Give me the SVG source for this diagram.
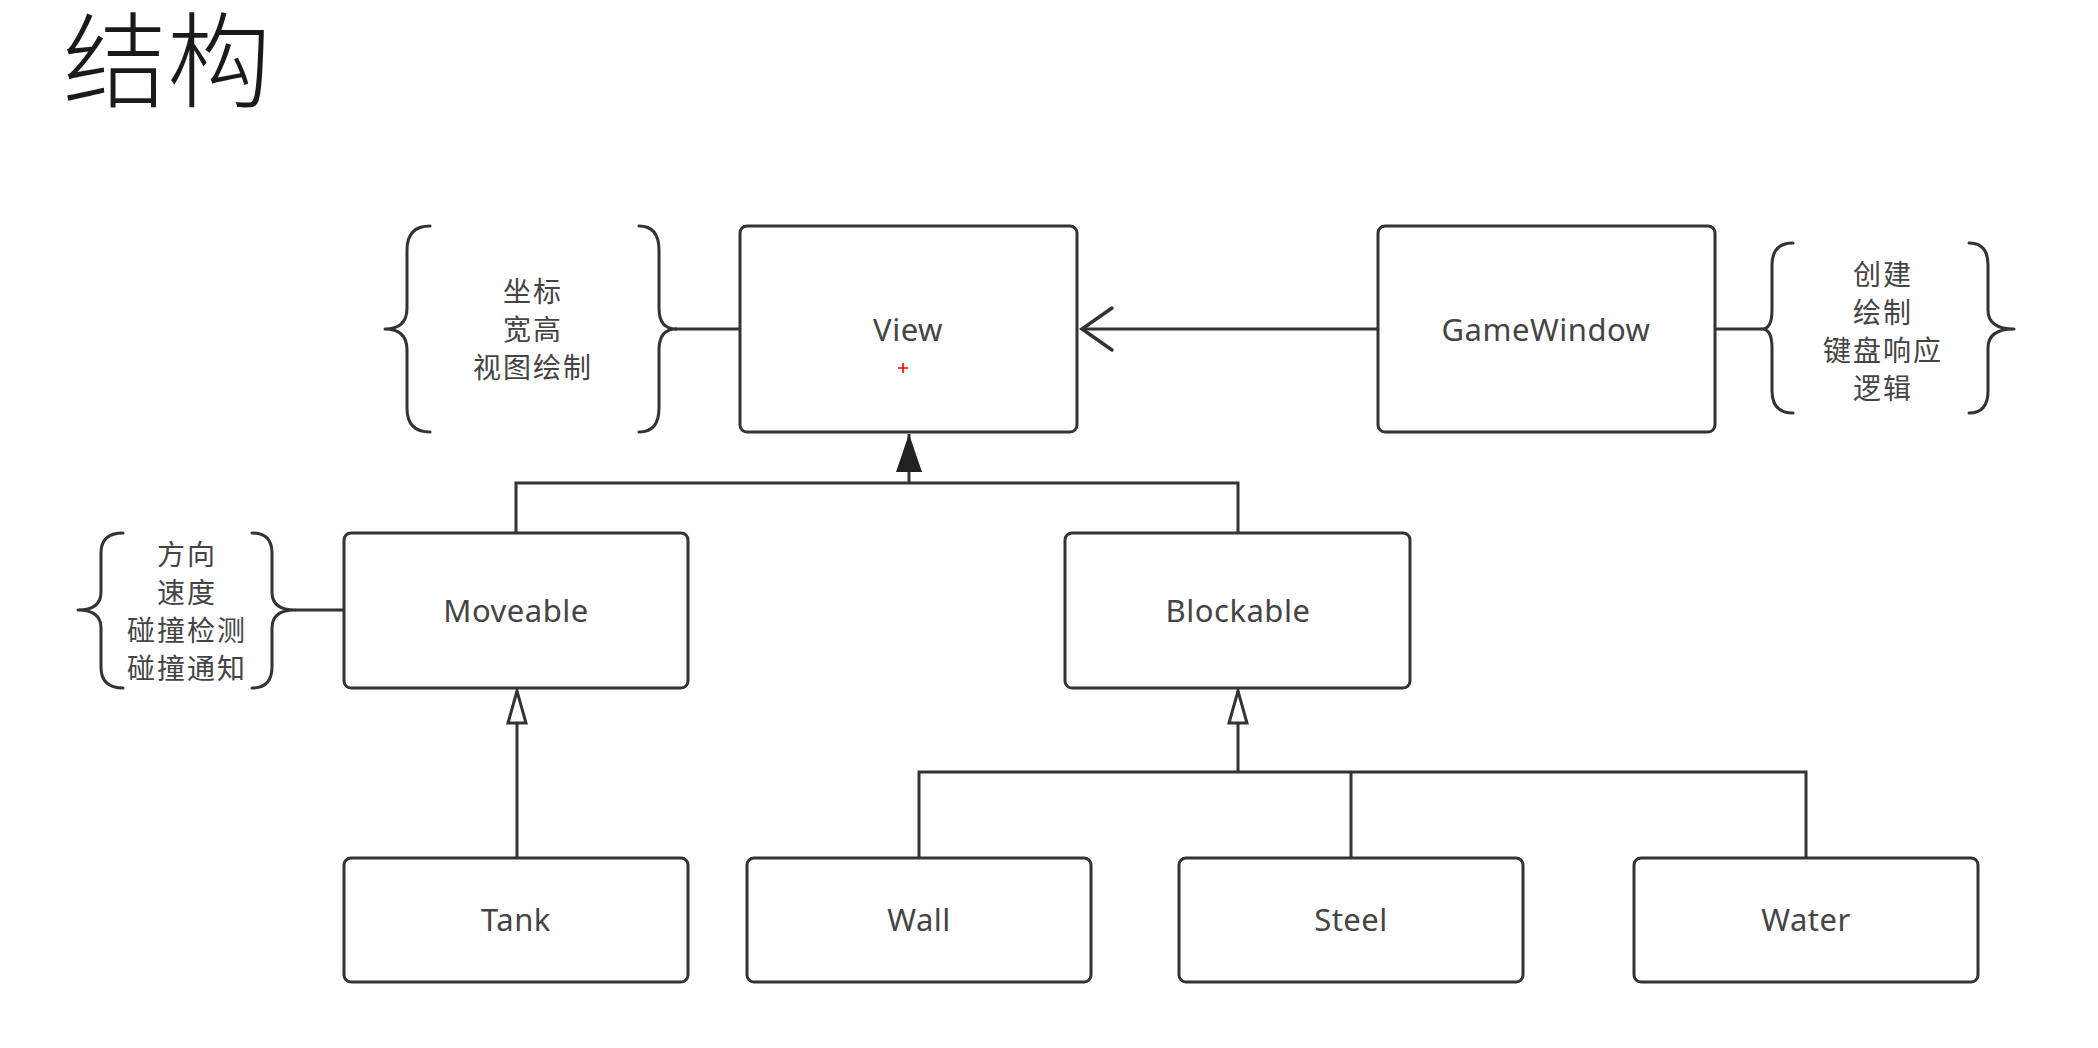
<svg xmlns="http://www.w3.org/2000/svg" width="2098" height="1048" viewBox="0 0 2098 1048">
<style>
.box{fill:#fff;stroke:#333;stroke-width:3}
.lbl{font-family:"Noto Sans","Noto Sans CJK SC",sans-serif;font-size:31px;letter-spacing:0.5px;fill:#444;text-anchor:middle;dominant-baseline:central}
.cjk{font-family:"Noto Sans CJK SC",sans-serif;font-size:28px;letter-spacing:2px;fill:#444;text-anchor:middle;dominant-baseline:central}
.brace{fill:none;stroke:#333;stroke-width:3;stroke-linecap:round;stroke-linejoin:round}
.con{fill:none;stroke:#333;stroke-width:3}
.title{font-family:"Noto Sans CJK SC",sans-serif;font-size:104px;font-weight:300;fill:#1a1a1a}
</style>
<defs>
<marker id="hollow" markerUnits="userSpaceOnUse" markerWidth="34" markerHeight="20" viewBox="0 0 34 20" refX="33" refY="10" orient="auto" overflow="visible">
<path d="M1,1 L33,10 L1,19 Z" fill="#fff" stroke="#333" stroke-width="3" stroke-linejoin="miter"/>
</marker>
<marker id="filled" markerUnits="userSpaceOnUse" markerWidth="38" markerHeight="26" viewBox="0 0 38 26" refX="38" refY="13" orient="auto" overflow="visible">
<path d="M0,0 L38,13 L0,26 Z" fill="#222"/>
</marker>
<marker id="open" markerUnits="userSpaceOnUse" markerWidth="32" markerHeight="44" viewBox="0 0 32 44" refX="31" refY="22" orient="auto" overflow="visible">
<path d="M1,1 L31,22 L1,43" fill="none" stroke="#333" stroke-width="3.5" stroke-linecap="round"/>
</marker>
</defs>
<rect width="2098" height="1048" fill="#fff"/>
<text class="title" x="63" y="100">结构</text>

<g id="connectors">
<path class="con" d="M1378 329 H1082" marker-end="url(#open)"/>
<path class="con" d="M516 533 V483 H1238 V533"/>
<path class="con" d="M909 483 V434" marker-end="url(#filled)"/>
<path class="con" d="M517 858 V691" marker-end="url(#hollow)"/>
<path class="con" d="M919 858 V772 H1806 V858"/>
<path class="con" d="M1351 772 V858"/>
<path class="con" d="M1238 772 V691" marker-end="url(#hollow)"/>
<path class="con" d="M675 329 H740"/>
<path class="con" d="M1715 329 H1762"/>
<path class="con" d="M295 610 H344"/>
</g>

<g id="view-notes">
<path class="brace" d="M430 226 Q407 226 407 250 V308 Q407 329 385 329 Q407 329 407 350 V408 Q407 432 430 432"/>
<path class="brace" d="M639 226 Q659 226 659 250 V308 Q659 329 676 329 Q659 329 659 350 V408 Q659 432 639 432"/>
<text class="cjk"><tspan x="533" y="290">坐标</tspan><tspan x="533" y="328">宽高</tspan><tspan x="533" y="366">视图绘制</tspan></text>
</g>

<g id="view">
<rect class="box" x="740" y="226" width="337" height="206" rx="7"/>
<text class="lbl" x="908" y="329">View</text>
<path d="M898 368 H908 M903 363 V373" stroke="#e00" stroke-width="1.6"/>
</g>

<g id="gamewindow">
<rect class="box" x="1378" y="226" width="337" height="206" rx="7"/>
<text class="lbl" x="1546" y="329">GameWindow</text>
</g>

<g id="gamewindow-notes">
<path class="brace" d="M1793 243 Q1772 243 1772 265 V310 Q1772 329 1762 329 Q1772 329 1772 348 V391 Q1772 413 1793 413"/>
<path class="brace" d="M1969 243 Q1988 243 1988 265 V310 Q1988 329 2014 329 Q1988 329 1988 348 V391 Q1988 413 1969 413"/>
<text class="cjk"><tspan x="1883" y="273">创建</tspan><tspan x="1883" y="311">绘制</tspan><tspan x="1883" y="349">键盘响应</tspan><tspan x="1883" y="387">逻辑</tspan></text>
</g>

<g id="moveable-notes">
<path class="brace" d="M123 533 Q101 533 101 553 V592 Q101 610 78 610 Q101 610 101 628 V667 Q101 688 123 688"/>
<path class="brace" d="M252 533 Q272 533 272 553 V592 Q272 610 295 610 Q272 610 272 628 V667 Q272 688 252 688"/>
<text class="cjk"><tspan x="187" y="553">方向</tspan><tspan x="187" y="591">速度</tspan><tspan x="187" y="629">碰撞检测</tspan><tspan x="187" y="667">碰撞通知</tspan></text>
</g>

<g id="moveable">
<rect class="box" x="344" y="533" width="344" height="155" rx="7"/>
<text class="lbl" x="516" y="610">Moveable</text>
</g>

<g id="blockable">
<rect class="box" x="1065" y="533" width="345" height="155" rx="7"/>
<text class="lbl" x="1238" y="610">Blockable</text>
</g>

<g id="tank">
<rect class="box" x="344" y="858" width="344" height="124" rx="7"/>
<text class="lbl" x="516" y="919">Tank</text>
</g>

<g id="wall">
<rect class="box" x="747" y="858" width="344" height="124" rx="7"/>
<text class="lbl" x="919" y="919">Wall</text>
</g>

<g id="steel">
<rect class="box" x="1179" y="858" width="344" height="124" rx="7"/>
<text class="lbl" x="1351" y="919">Steel</text>
</g>

<g id="water">
<rect class="box" x="1634" y="858" width="344" height="124" rx="7"/>
<text class="lbl" x="1806" y="919">Water</text>
</g>
</svg>
